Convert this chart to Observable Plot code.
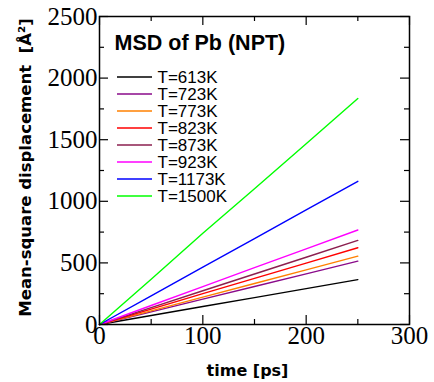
<!DOCTYPE html>
<html><head><meta charset="utf-8">
<script src="https://cdn.jsdelivr.net/npm/d3@7"></script>
<script src="https://cdn.jsdelivr.net/npm/@observablehq/plot@0.6"></script>
<style>body{margin:0;background:#fff}</style>
</head><body><div id="chart"></div>
<script>
// ---- data ----
const times = [0, 50, 100, 150, 200, 250];
const seriesNames = ["T=613K","T=723K","T=773K","T=823K","T=873K","T=923K","T=1173K","T=1500K"];
const seriesColors = ["#000000","#8a0a8a","#ff8000","#ff0000","#8b1f4f","#ff00ff","#0000ff","#00ff00"];
const msd613  = [0, 73, 146, 218, 291, 364];
const msd723  = [0, 103, 206, 308, 411, 514];
const msd773  = [0, 111, 222, 333, 443, 555];
const msd823  = [0, 125, 250, 374, 498, 623];
const msd873  = [0, 137, 274, 410, 546, 683];
const msd923  = [0, 154, 308, 461, 614, 767];
const msd1173 = [0, 233, 465, 697, 930, 1162];
const msd1500 = [0, 368, 740, 1102, 1467, 1834];
const xTicks = [0, 100, 200, 300];
const xMinor = [50, 150, 250];
const yTicks = [0, 500, 1000, 1500, 2000, 2500];
const yMinor = [250, 750, 1250, 1750, 2250];
const legendTitle = "MSD of Pb (NPT)";
const xLabel = "time [ps]";
const yLabel = "Mean-square displacement\u00a0\u00a0[Å²]";

// ---- build ----
const allSeries = [msd613, msd723, msd773, msd823, msd873, msd923, msd1173, msd1500];
const rows = allSeries.flatMap((vals, s) => vals.map((v, i) => ({t: times[i], msd: v, s: seriesNames[s]})));

const W = 434, H = 382, mL = 99, mR = 25, mT = 16, mB = 58;
const pw = W - mL - mR, ph = H - mT - mB;
const major = 9, minor = 5;
const serif = "'Liberation Serif', 'Times New Roman', serif";
const sansB = "'DejaVu Sans', sans-serif";
const sans = "'Liberation Sans', Arial, sans-serif";
const fmt = d => String(d);

const marks = [
  Plot.line(rows, {x: "t", y: "msd", z: "s", stroke: "s", strokeWidth: 1.4}),
  Plot.frame({stroke: "#000", strokeWidth: 1.5}),
  Plot.ruleX(xTicks, {insetTop: ph - major, stroke: "#000", strokeWidth: 1.2}),
  Plot.ruleX(xTicks, {insetBottom: ph - major, stroke: "#000", strokeWidth: 1.2}),
  Plot.ruleX(xMinor, {insetTop: ph - minor, stroke: "#000", strokeWidth: 1.2}),
  Plot.ruleX(xMinor, {insetBottom: ph - minor, stroke: "#000", strokeWidth: 1.2}),
  Plot.ruleY(yTicks, {insetRight: pw - major, stroke: "#000", strokeWidth: 1.2}),
  Plot.ruleY(yTicks, {insetLeft: pw - major, stroke: "#000", strokeWidth: 1.2}),
  Plot.ruleY(yMinor, {insetRight: pw - minor, stroke: "#000", strokeWidth: 1.2}),
  Plot.ruleY(yMinor, {insetLeft: pw - minor, stroke: "#000", strokeWidth: 1.2}),
  Plot.axisX({anchor: "bottom", ticks: xTicks, tickFormat: fmt, tickSize: 0, tickPadding: 2, label: null,
    fontSize: 25, fontFamily: serif, fill: "#000"}),
  Plot.axisY({anchor: "left", ticks: yTicks, tickFormat: fmt, tickSize: 0, tickPadding: 2, label: null,
    fontSize: 25, fontFamily: serif, fill: "#000"}),
  Plot.text([xLabel], {frameAnchor: "bottom", textAnchor: "middle", lineAnchor: "middle", dx: -7, dy: 46,
    fontSize: 16, fontWeight: "bold", fontFamily: sansB, fill: "#000"}),
  Plot.text([yLabel], {frameAnchor: "left", textAnchor: "middle", lineAnchor: "middle", rotate: -90, dx: -74, dy: -3,
    fontSize: 16.5, fontWeight: "bold", fontFamily: sansB, fill: "#000"}),
  Plot.text([legendTitle], {frameAnchor: "top-left", textAnchor: "start", lineAnchor: "middle", dx: 15, dy: 27,
    fontSize: 21.5, fontWeight: "bold", fontFamily: sans, fill: "#000"})
];

// legend entries (pixel layout inside the frame)
const legX1 = 18, legX2 = 53, legTextX = 58, legY0 = 61, legStep = 17;
seriesNames.forEach((name, i) => {
  marks.push(Plot.text([name], {frameAnchor: "top-left", textAnchor: "start", lineAnchor: "middle",
    dx: legTextX, dy: legY0 + legStep * i, fontSize: 17, fontFamily: sans, fill: "#000"}));
});

const svg = Plot.plot({
  width: W, height: H,
  marginLeft: mL, marginRight: mR, marginTop: mT, marginBottom: mB,
  x: {domain: [0, 300], axis: null},
  y: {domain: [0, 2500], axis: null},
  color: {domain: seriesNames, range: seriesColors},
  style: {background: "#fff", overflow: "visible"},
  marks
});

// legend line swatches
const ns = "http://www.w3.org/2000/svg";
const g = document.createElementNS(ns, "g");
g.setAttribute("aria-label", "legend swatches");
seriesNames.forEach((name, i) => {
  const l = document.createElementNS(ns, "line");
  const y = mT + legY0 + legStep * i;
  l.setAttribute("x1", mL + legX1); l.setAttribute("x2", mL + legX2);
  l.setAttribute("y1", y); l.setAttribute("y2", y);
  l.setAttribute("stroke", seriesColors[i]); l.setAttribute("stroke-width", 1.4);
  g.appendChild(l);
});
svg.appendChild(g);
document.getElementById("chart").appendChild(svg);
</script>
</body></html>
